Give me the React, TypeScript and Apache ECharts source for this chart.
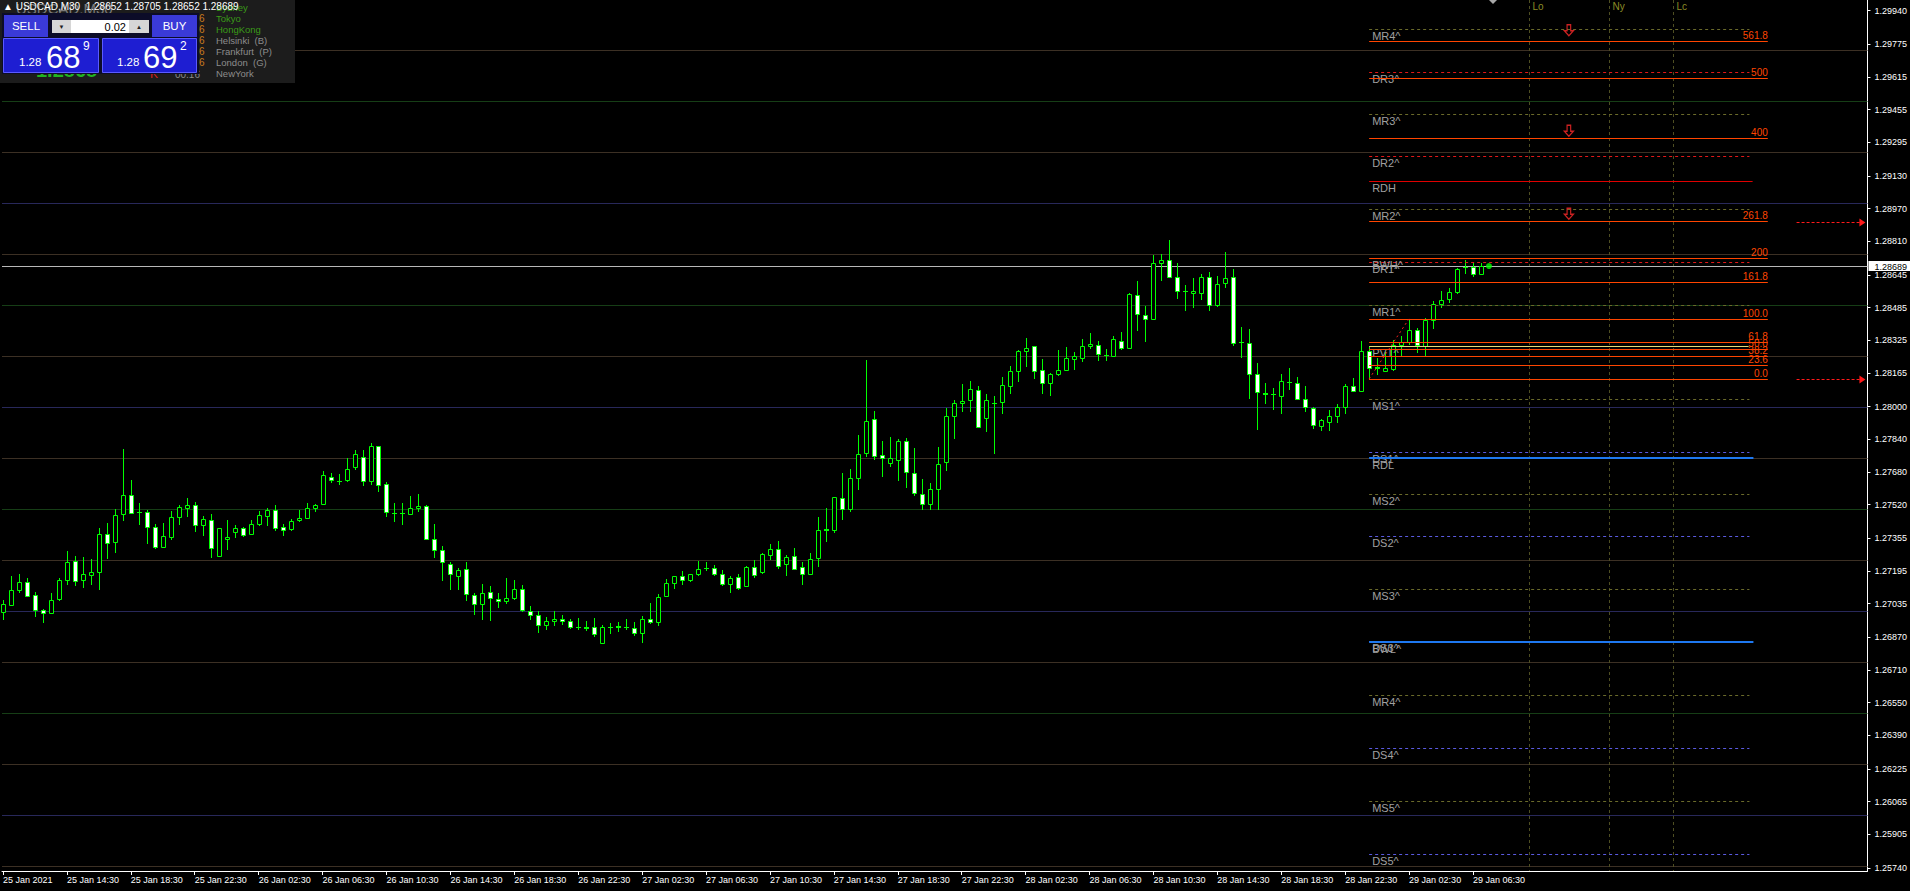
import React, { useEffect, useRef } from "react";
import * as echarts from "echarts";

const FONT = "Liberation Sans, Arial, sans-serif";

// ---------- axis labels ----------
const timeLabels = [
  "25 Jan 2021", "25 Jan 14:30", "25 Jan 18:30", "25 Jan 22:30", "26 Jan 02:30", "26 Jan 06:30",
  "26 Jan 10:30", "26 Jan 14:30", "26 Jan 18:30", "26 Jan 22:30", "27 Jan 02:30", "27 Jan 06:30",
  "27 Jan 10:30", "27 Jan 14:30", "27 Jan 18:30", "27 Jan 22:30", "28 Jan 02:30", "28 Jan 06:30",
  "28 Jan 10:30", "28 Jan 14:30", "28 Jan 18:30", "28 Jan 22:30", "29 Jan 02:30", "29 Jan 06:30",
];
const priceTicks = [
  1.2994, 1.29775, 1.29615, 1.29455, 1.29295, 1.2913, 1.2897, 1.2881, 1.28645, 1.28485, 1.28325,
  1.28165, 1.28, 1.2784, 1.2768, 1.2752, 1.27355, 1.27195, 1.27035, 1.2687, 1.2671, 1.2655, 1.2639,
  1.26225, 1.26065, 1.25905, 1.2574,
];

// ---------- USDCAD M30 candles ----------
const opens = [
  1.26993, 1.27029, 1.27101, 1.27142, 1.27078, 1.27005, 1.2699, 1.27057, 1.2715, 1.27245,
  1.2715, 1.27176, 1.2719, 1.27377, 1.27337, 1.27474, 1.27569, 1.27485, 1.27485, 1.27412,
  1.27312, 1.2736, 1.27459, 1.27503, 1.2752, 1.2742, 1.27446, 1.27268, 1.27351, 1.27386,
  1.27407, 1.27376, 1.27425, 1.27464, 1.27495, 1.27412, 1.274, 1.27444, 1.27454, 1.27503,
  1.27523, 1.27655, 1.27637, 1.27641, 1.27704, 1.27755, 1.27636, 1.27806, 1.27623, 1.2748,
  1.27481, 1.27474, 1.27503, 1.27515, 1.27353, 1.27299, 1.2723, 1.2717, 1.27206, 1.27078,
  1.27033, 1.27093, 1.27059, 1.27047, 1.27062, 1.27108, 1.27, 1.2698, 1.2693, 1.26949,
  1.26961, 1.26951, 1.2692, 1.26922, 1.26922, 1.26842, 1.26922, 1.26926, 1.26922, 1.26917,
  1.26891, 1.26961, 1.26944, 1.27072, 1.27136, 1.27172, 1.2715, 1.2718, 1.27211, 1.27211,
  1.27181, 1.27131, 1.27167, 1.27121, 1.27216, 1.27189, 1.27274, 1.27304, 1.2723, 1.27269,
  1.27216, 1.27181, 1.27258, 1.27398, 1.27395, 1.27554, 1.27498, 1.2765, 1.27774, 1.27941,
  1.27765, 1.27724, 1.27739, 1.2783, 1.27676, 1.27573, 1.27523, 1.27598, 1.2773, 1.27956,
  1.2802, 1.28033, 1.28083, 1.27945, 1.28018, 1.28023, 1.28101, 1.28175, 1.28273, 1.28297,
  1.2818, 1.28116, 1.2816, 1.28181, 1.28234, 1.2824, 1.28299, 1.28304, 1.28253, 1.28248,
  1.28324, 1.28288, 1.28549, 1.28451, 1.28429, 1.28706, 1.2872, 1.28637, 1.28569, 1.28559,
  1.28559, 1.28637, 1.28497, 1.28606, 1.28637, 1.28317, 1.28314, 1.2816, 1.28065, 1.28064,
  1.28052, 1.28123, 1.28118, 1.28039, 1.27995, 1.27907, 1.27925, 1.27954, 1.28, 1.28103,
  1.28078, 1.28274, 1.28191, 1.28176, 1.28186, 1.28304, 1.28319, 1.28374, 1.28297, 1.28426,
  1.28503, 1.28529, 1.2856, 1.28685, 1.28686, 1.28652,
];
const highs = [
  1.27054, 1.27168, 1.27181, 1.27162, 1.27093, 1.2701, 1.27088, 1.27162, 1.27291, 1.27266,
  1.27261, 1.27252, 1.27404, 1.27428, 1.275, 1.27791, 1.27639, 1.27526, 1.27495, 1.27423,
  1.27428, 1.27487, 1.27516, 1.27551, 1.27531, 1.27462, 1.27472, 1.27407, 1.27443, 1.27418,
  1.27409, 1.27443, 1.27487, 1.27505, 1.27516, 1.27423, 1.27451, 1.27495, 1.27526, 1.27521,
  1.27686, 1.27677, 1.2767, 1.27747, 1.27786, 1.27786, 1.2782, 1.27809, 1.27629, 1.27526,
  1.27526, 1.27561, 1.2757, 1.27516, 1.27423, 1.27315, 1.2724, 1.27209, 1.27237, 1.27088,
  1.27129, 1.27119, 1.27088, 1.27159, 1.27149, 1.27124, 1.27021, 1.26997, 1.26971, 1.26997,
  1.26977, 1.26961, 1.26962, 1.26948, 1.26962, 1.26928, 1.26938, 1.26943, 1.26958, 1.26943,
  1.26972, 1.27036, 1.2708, 1.27154, 1.27172, 1.27193, 1.27181, 1.27242, 1.27237, 1.27222,
  1.27198, 1.2717, 1.27178, 1.27217, 1.2725, 1.27281, 1.27325, 1.2734, 1.27271, 1.27306,
  1.2724, 1.27281, 1.27458, 1.27502, 1.27559, 1.27673, 1.27692, 1.27859, 1.28227, 1.27977,
  1.2783, 1.2785, 1.2784, 1.27845, 1.27796, 1.27644, 1.27627, 1.27801, 1.27992, 1.28034,
  1.28113, 1.28124, 1.281, 1.2806, 1.28051, 1.28145, 1.28199, 1.28276, 1.28335, 1.28299,
  1.28232, 1.28167, 1.28276, 1.28293, 1.28266, 1.2833, 1.28359, 1.2832, 1.28283, 1.28345,
  1.28364, 1.28556, 1.28614, 1.28492, 1.28741, 1.28747, 1.28815, 1.28703, 1.28595, 1.28632,
  1.28652, 1.28658, 1.28639, 1.28756, 1.28676, 1.28389, 1.28379, 1.28212, 1.28114, 1.2809,
  1.28158, 1.28188, 1.28144, 1.281, 1.27997, 1.2794, 1.27982, 1.28015, 1.28113, 1.28139,
  1.2832, 1.28294, 1.28237, 1.28268, 1.28325, 1.28346, 1.28431, 1.28384, 1.28436, 1.28518,
  1.28568, 1.28583, 1.28678, 1.28717, 1.28704, 1.28705,
];
const lows = [
  1.26959, 1.27028, 1.27092, 1.27072, 1.26974, 1.26944, 1.26989, 1.27052, 1.27129, 1.27126,
  1.27116, 1.27129, 1.27105, 1.27256, 1.27286, 1.27443, 1.27477, 1.27423, 1.2733, 1.27306,
  1.2731, 1.2735, 1.27423, 1.27462, 1.27389, 1.27369, 1.27261, 1.27268, 1.27301, 1.2736,
  1.27364, 1.27374, 1.27418, 1.27418, 1.27395, 1.27369, 1.27394, 1.2744, 1.27454, 1.27487,
  1.27523, 1.27631, 1.27619, 1.27634, 1.27693, 1.27614, 1.27621, 1.27585, 1.27462, 1.2744,
  1.27423, 1.27474, 1.27489, 1.2735, 1.27263, 1.27149, 1.27105, 1.27105, 1.27051, 1.26984,
  1.26959, 1.26954, 1.27018, 1.27038, 1.27057, 1.26997, 1.26959, 1.26895, 1.26909, 1.26928,
  1.26935, 1.26913, 1.26909, 1.26904, 1.26876, 1.26842, 1.26889, 1.26899, 1.26909, 1.26881,
  1.26845, 1.2694, 1.2693, 1.27072, 1.27111, 1.27131, 1.27145, 1.27175, 1.27201, 1.27175,
  1.27126, 1.27091, 1.27106, 1.27121, 1.27165, 1.27185, 1.27255, 1.27209, 1.27175, 1.27204,
  1.27132, 1.2718, 1.27217, 1.27342, 1.27386, 1.27449, 1.27488, 1.27594, 1.27758, 1.27743,
  1.27658, 1.27709, 1.2764, 1.27606, 1.27567, 1.27498, 1.27498, 1.27498, 1.27691, 1.27847,
  1.27977, 1.27979, 1.27899, 1.27879, 1.27771, 1.27967, 1.28065, 1.28126, 1.28199, 1.28141,
  1.28065, 1.28057, 1.28154, 1.2818, 1.28185, 1.28222, 1.28288, 1.28227, 1.28227, 1.28248,
  1.28281, 1.28286, 1.28374, 1.28322, 1.28429, 1.28619, 1.28636, 1.28531, 1.28472, 1.28489,
  1.28526, 1.28472, 1.28492, 1.28585, 1.28304, 1.28243, 1.28042, 1.2789, 1.28018, 1.27989,
  1.27969, 1.28088, 1.28038, 1.27977, 1.27897, 1.27884, 1.27884, 1.27925, 1.27969, 1.28077,
  1.28077, 1.28136, 1.2816, 1.28176, 1.2818, 1.28255, 1.28309, 1.2827, 1.28253, 1.28386,
  1.28489, 1.28513, 1.28557, 1.28655, 1.28642, 1.28652,
];
const closes = [
  1.27031, 1.27103, 1.27142, 1.27074, 1.27005, 1.2699, 1.27054, 1.27152, 1.2724, 1.27147,
  1.27181, 1.27191, 1.27377, 1.27332, 1.27471, 1.27569, 1.27479, 1.27482, 1.2741, 1.27312,
  1.27368, 1.27461, 1.2751, 1.2752, 1.2742, 1.27451, 1.27307, 1.27407, 1.27363, 1.27407,
  1.27371, 1.27427, 1.27471, 1.27495, 1.27405, 1.27395, 1.27441, 1.27456, 1.27505, 1.2752,
  1.27667, 1.27642, 1.27638, 1.27696, 1.27766, 1.27636, 1.27806, 1.27618, 1.27485, 1.27481,
  1.2748, 1.27505, 1.27515, 1.27351, 1.27299, 1.27239, 1.2718, 1.27201, 1.27082, 1.27033,
  1.27088, 1.27062, 1.27047, 1.27064, 1.27108, 1.27002, 1.26979, 1.2693, 1.26951, 1.26961,
  1.26949, 1.2692, 1.26921, 1.26917, 1.26886, 1.26922, 1.2692, 1.26922, 1.26921, 1.26891,
  1.26961, 1.26944, 1.27069, 1.27137, 1.27172, 1.2715, 1.27181, 1.27206, 1.27207, 1.27181,
  1.27131, 1.27159, 1.27111, 1.27212, 1.27176, 1.27276, 1.27304, 1.2722, 1.27264, 1.27206,
  1.27181, 1.27255, 1.27397, 1.27397, 1.27559, 1.275, 1.27652, 1.27769, 1.27931, 1.27758,
  1.2775, 1.27747, 1.2783, 1.27681, 1.27577, 1.27523, 1.27598, 1.27721, 1.27956, 1.2802,
  1.28029, 1.28088, 1.279, 1.28034, 1.28017, 1.28105, 1.28176, 1.28274, 1.28289, 1.28175,
  1.28118, 1.28162, 1.28181, 1.28237, 1.28247, 1.28299, 1.28308, 1.2826, 1.28252, 1.28333,
  1.28288, 1.28554, 1.28456, 1.28429, 1.28706, 1.28717, 1.28637, 1.28567, 1.28567, 1.28567,
  1.28637, 1.285, 1.28603, 1.28632, 1.28314, 1.28315, 1.2816, 1.28074, 1.28064, 1.28063,
  1.28127, 1.28122, 1.28039, 1.28, 1.27911, 1.27933, 1.27956, 1.28, 1.28103, 1.28078,
  1.28274, 1.28191, 1.28192, 1.28191, 1.28304, 1.28319, 1.28377, 1.28304, 1.28426, 1.28505,
  1.28524, 1.28564, 1.28676, 1.28684, 1.28652, 1.28689,
];

// ---------- levels ----------
const quarterLevels = [
  1.2975, 1.295, 1.2925, 1.29, 1.2875, 1.285, 1.2825, 1.28, 1.2775, 1.275, 1.2725, 1.27, 1.2675,
  1.265, 1.2625, 1.26, 1.2575,
];
const sessionNames = ["Lo", "Ny", "Lc"];
const sessionBars = [191, 201, 209];
const pivotNames = [
  "MR4^", "DR3^", "MR3^", "DR2^", "RDH", "MR2^", "DR1^", "BWH^", "MR1^", "PVT^", "MS1^", "DS1^",
  "RDL", "MS2^", "DS2^", "MS3^", "DS3^", "BWL^", "MR4^", "DS4^", "MS5^", "DS5^",
];
const pivotPrices = [
  1.29849, 1.29638, 1.29432, 1.29228, 1.29104, 1.28967, 1.28707, 1.28727, 1.285, 1.28297, 1.28036,
  1.27776, 1.27747, 1.27571, 1.27365, 1.27105, 1.2685, 1.26848, 1.26586, 1.26326, 1.26068, 1.25807,
];
const pivotKinds = [
  "olive", "red", "olive", "red", "redSolid", "olive", "red", "none", "olive", "khaki", "olive",
  "blue", "blueSolid", "olive", "blue", "olive", "blue", "blueSolid", "olive", "blue", "olive", "blue",
];
const fibNames = ["0.0", "23.6", "38.2", "50.0", "61.8", "100.0", "161.8", "200", "261.8", "400", "500", "561.8"];
const fibPrices = [
  1.28136, 1.28206, 1.28249, 1.28284, 1.28318, 1.28431, 1.28613, 1.28726, 1.28908, 1.29316,
  1.29611, 1.29793,
];
const fibAnchorBars = [171, 176];
const fibAnchorPrices = [1.28136, 1.28431];
const alertArrowBars = [196, 196, 196];
const alertArrowPrices = [1.29844, 1.29352, 1.28945];
const rightArrowPrices = [1.28905, 1.28136];
const currentPrice = 1.28689;
const markerBar = 186;
const cities = ["Sydney", "Tokyo", "HongKong", "Helsinki  (B)", "Frankfurt  (P)", "London  (G)", "NewYork"];
const cityOpen = [true, true, true, false, false, false, false];

// ---------- styles / geometry ----------
const Y_MIN = 1.257245;
const Y_MAX = 1.299926;
const X_MIN = -0.125;
const X_MAX = 233.375;
const LEVEL_START = 171;
const kindStyle: Record<string, any> = {
  olive: { stroke: "#6a6a2a", dash: [3, 3], w: 1, end: 218.6 },
  red: { stroke: "#e01818", dash: [3, 3], w: 1, end: 218.6 },
  blue: { stroke: "#5a5ae0", dash: [3, 3], w: 1, end: 218.6 },
  redSolid: { stroke: "#e00000", dash: null, w: 1, end: 219 },
  blueSolid: { stroke: "#1e78f0", dash: null, w: 2, end: 219.1 },
  khaki: { stroke: "#e6da7a", dash: null, w: 1, end: 218.5 },
  none: null,
};
const FIB_END = 220.9;

function quarterColor(p: number) {
  const r = Math.round(p * 10000) % 100;
  if (r === 0) return "#28285a";
  if (r === 50) return "#163e16";
  return "#3c3024";
}
const snap = (v: number) => Math.round(v) + 0.5;

function buildOption() {
  const candleData = opens.map((o, i) => [i, o, highs[i], lows[i], closes[i]]);

  const candleSeries = {
    type: "custom",
    name: "candles",
    z: 5,
    silent: true,
    data: candleData,
    encode: { x: 0, y: [1, 2, 3, 4] },
    renderItem: (params: any, api: any) => {
      const i = api.value(0);
      const o = api.value(1);
      const h = api.value(2);
      const l = api.value(3);
      const c = api.value(4);
      const po = api.coord([i, o]);
      const pc = api.coord([i, c]);
      const ph = api.coord([i, h]);
      const pl = api.coord([i, l]);
      const cx = snap(po[0]);
      const top = Math.round(Math.min(po[1], pc[1]));
      const bot = Math.round(Math.max(po[1], pc[1]));
      const children: any[] = [
        {
          type: "line",
          shape: { x1: cx, y1: Math.round(ph[1]), x2: cx, y2: Math.round(pl[1]) + 1 },
          style: { stroke: "#00ff00", lineWidth: 1 },
        },
      ];
      if (bot - top < 2) {
        children.push({
          type: "rect",
          shape: { x: cx - 2.5, y: top, width: 5, height: bot - top + 1 },
          style: { fill: "#00ff00" },
        });
      } else {
        children.push({
          type: "rect",
          shape: { x: cx - 2, y: top + 0.5, width: 4, height: bot - top },
          style: { fill: c < o ? "#ffffff" : "#000000", stroke: "#00ff00", lineWidth: 1 },
        });
      }
      return { type: "group", children };
    },
  };

  const quarterSeries = {
    type: "custom",
    name: "quarters",
    z: 1,
    silent: true,
    data: quarterLevels.map((p) => [X_MIN, p]),
    renderItem: (params: any, api: any) => {
      const cs = params.coordSys;
      const y = snap(api.coord([0, api.value(1)])[1]);
      return {
        type: "line",
        shape: { x1: cs.x, y1: y, x2: cs.x + cs.width, y2: y },
        style: { stroke: quarterColor(api.value(1)), lineWidth: 1 },
      };
    },
  };

  const sessionSeries = {
    type: "custom",
    name: "sessions",
    z: 2,
    silent: true,
    data: sessionBars.map((b) => [b, Y_MAX]),
    renderItem: (params: any, api: any) => {
      const cs = params.coordSys;
      const x = snap(api.coord([api.value(0), Y_MAX])[0]);
      return {
        type: "group",
        children: [
          {
            type: "line",
            shape: { x1: x, y1: cs.y, x2: x, y2: cs.y + cs.height },
            style: { stroke: "#4e4e22", lineWidth: 1, lineDash: [3, 3] },
          },
          {
            type: "text",
            x: x + 3,
            y: cs.y + 1,
            style: {
              text: sessionNames[params.dataIndex],
              fill: "#8c8c26",
              fontSize: 10,
              fontFamily: FONT,
              align: "left",
              verticalAlign: "top",
              textAlign: "left",
              textVerticalAlign: "top",
            },
          },
        ],
      };
    },
  };

  const pivotSeries = {
    type: "custom",
    name: "pivots",
    z: 6,
    silent: true,
    data: pivotPrices.map((p) => [LEVEL_START, p]),
    renderItem: (params: any, api: any) => {
      const kind = pivotKinds[params.dataIndex];
      const st = kindStyle[kind];
      const p = api.value(1);
      const a = api.coord([LEVEL_START, p]);
      const y = snap(a[1]);
      const children: any[] = [];
      if (st) {
        const b = api.coord([st.end, p]);
        const yy = st.w === 2 ? Math.round(a[1]) : y;
        children.push({
          type: "line",
          shape: { x1: a[0], y1: yy, x2: b[0], y2: yy },
          style: { stroke: st.stroke, lineWidth: st.w, lineDash: st.dash || undefined },
        });
      }
      children.push({
        type: "text",
        x: a[0] + 3,
        y: Math.round(a[1]) + 1,
        style: {
          text: pivotNames[params.dataIndex],
          fill: "#a0a0a0",
          fontSize: 11,
          fontFamily: FONT,
          align: "left",
          verticalAlign: "top",
          textAlign: "left",
          textVerticalAlign: "top",
        },
      });
      return { type: "group", children };
    },
  };

  const fibSeries = {
    type: "custom",
    name: "fibo",
    z: 7,
    silent: true,
    data: fibPrices.map((p) => [LEVEL_START, p]),
    renderItem: (params: any, api: any) => {
      const p = api.value(1);
      const a = api.coord([LEVEL_START, p]);
      const b = api.coord([FIB_END, p]);
      const y = snap(a[1]);
      return {
        type: "group",
        children: [
          {
            type: "line",
            shape: { x1: a[0], y1: y, x2: b[0], y2: y },
            style: { stroke: "#ff4500", lineWidth: 1 },
          },
          {
            type: "text",
            x: b[0],
            y: Math.round(a[1]) - 1,
            style: {
              text: fibNames[params.dataIndex],
              fill: "#ff4500",
              fontSize: 10,
              fontFamily: FONT,
              align: "right",
              verticalAlign: "bottom",
              textAlign: "right",
              textVerticalAlign: "bottom",
            },
          },
        ],
      };
    },
  };

  const fibAnchorSeries = {
    type: "line",
    name: "fibAnchor",
    z: 8,
    silent: true,
    symbol: "none",
    data: fibAnchorBars.map((b, i) => [b, fibAnchorPrices[i]]),
    lineStyle: { color: "#ff2020", width: 1, type: [2, 3] },
  };

  const rightArrowSeries = {
    type: "custom",
    name: "rightArrows",
    z: 8,
    silent: true,
    data: rightArrowPrices.map((p) => [224.5, p]),
    renderItem: (params: any, api: any) => {
      const p = api.value(1);
      const a = api.coord([224.5, p]);
      const b = api.coord([X_MAX, p]);
      const y = snap(a[1]);
      const xe = b[0] - 2;
      return {
        type: "group",
        children: [
          {
            type: "line",
            shape: { x1: a[0], y1: y, x2: xe - 4, y2: y },
            style: { stroke: "#ff1a1a", lineWidth: 1, lineDash: [3, 2] },
          },
          {
            type: "polygon",
            shape: { points: [[xe - 6, y - 4], [xe, y], [xe - 6, y + 4]] },
            style: { fill: "#ff1a1a" },
          },
        ],
      };
    },
  };

  const currentSeries = {
    type: "custom",
    name: "current",
    z: 4,
    silent: true,
    data: [[X_MIN, currentPrice]],
    renderItem: (params: any, api: any) => {
      const cs = params.coordSys;
      const p = api.value(1);
      const y = snap(api.coord([0, p])[1]);
      const xr = cs.x + cs.width;
      return {
        type: "group",
        children: [
          {
            type: "line",
            shape: { x1: cs.x, y1: y, x2: xr, y2: y },
            style: { stroke: "#b8b8b8", lineWidth: 1 },
          },
          {
            type: "rect",
            shape: { x: xr + 1, y: y - 5.5, width: 42, height: 10 },
            style: { fill: "#ffffff" },
          },
          {
            type: "text",
            x: xr + 7,
            y: y,
            style: {
              text: p.toFixed(5),
              fill: "#000000",
              fontSize: 9,
              fontFamily: FONT,
              align: "left",
              verticalAlign: "middle",
              textAlign: "left",
              textVerticalAlign: "middle",
            },
          },
        ],
      };
    },
  };

  const alertSeries = {
    type: "scatter",
    name: "alerts",
    z: 9,
    silent: true,
    symbol: "path://M3,0 L7,0 L7,6 L10,6 L5,11 L0,6 L3,6 Z",
    symbolSize: [9, 11],
    itemStyle: { color: "rgba(0,0,0,0)", borderColor: "#ff2a2a", borderWidth: 1.3 },
    data: alertArrowBars.map((b, i) => [b, alertArrowPrices[i]]),
  };

  const dotSeries = {
    type: "scatter",
    name: "dot",
    z: 9,
    silent: true,
    symbol: "circle",
    symbolSize: 6,
    itemStyle: { color: "#00ff00" },
    data: [[markerBar, currentPrice]],
  };

  const txt = (text: string, x: number, y: number, fill: string, size: number, extra: any = {}) => ({
    type: "text",
    x,
    y,
    z: 100,
    style: {
      text,
      fill,
      fontSize: size,
      fontFamily: FONT,
      textAlign: extra.align || "left",
      textVerticalAlign: extra.valign || "middle",
      align: extra.align || "left",
      verticalAlign: extra.valign || "middle",
      fontWeight: extra.weight || "normal",
    },
  });
  const box = (x: number, y: number, w: number, h: number, fill: string, stroke?: string) => ({
    type: "rect",
    z: 100,
    shape: { x, y, width: w, height: h },
    style: stroke ? { fill, stroke, lineWidth: 1 } : { fill },
  });

  const cityRows = [7.5, 18.5, 29.5, 40.5, 51.5, 62.5, 73.5];
  const graphic: any[] = [
    box(0, 0, 295, 83, "#1c1c1c"),
    txt("USDCAD,M30", 16, 8, "#7a7a7a", 15),
    txt("1.2868", 36, 70, "#22b422", 20, { weight: "bold" }),
    txt("K", 150, 74, "#d02020", 12),
    txt("00.16", 200, 74, "#8a8a8a", 10, { align: "right" }),
  ];
  cityRows.forEach((y, i) => {
    if (i > 0 && i < 6) graphic.push(txt("6", 199, y, "#c87a1e", 10));
    graphic.push(txt(cities[i], 216, y, cityOpen[i] ? "#3a9a18" : "#8c8c8c", 9.5));
  });
  graphic.push(
    txt("\u25B2 USDCAD,M30  1.28652 1.28705 1.28652 1.28689", 3, 6, "#ffffff", 10),
    box(2, 13, 197, 61, "#0c0c28"),
    box(4, 15, 44, 22, "#3a3ad8"),
    txt("SELL", 26, 26, "#ffffff", 11.5, { align: "center" }),
    box(152, 15, 45, 22, "#3a3ad8"),
    txt("BUY", 174.5, 26, "#ffffff", 11.5, { align: "center" }),
    box(52, 20, 19, 13, "#d6d6d6"),
    txt("\u25BC", 61.5, 26.5, "#202020", 6, { align: "center" }),
    box(71, 20, 58, 13, "#ffffff"),
    txt("0.02", 126, 26.5, "#000000", 11, { align: "right" }),
    box(129, 20, 20, 13, "#d6d6d6"),
    txt("\u25B2", 139, 26.5, "#202020", 6, { align: "center" }),
    box(3.5, 38.5, 95, 34, "#1e1ed2", "#5a5aff"),
    box(102.5, 38.5, 94, 34, "#1e1ed2", "#5a5aff"),
    txt("1.28", 19, 62, "#ffffff", 11.5),
    txt("68", 46, 57, "#ffffff", 31),
    txt("9", 83, 46, "#ffffff", 12),
    txt("1.28", 117, 62, "#ffffff", 11.5),
    txt("69", 143, 57, "#ffffff", 31),
    txt("2", 180, 46, "#ffffff", 12),
    {
      type: "polygon",
      z: 100,
      shape: { points: [[1489, 0], [1497, 0], [1493, 4]] },
      style: { fill: "#a8a8a8" },
    }
  );

  return {
    animation: false,
    backgroundColor: "#000000",
    grid: { left: 0, top: 0, width: 1868, height: 871, containLabel: false },
    xAxis: {
      type: "value",
      min: X_MIN,
      max: X_MAX,
      axisLine: { show: true, onZero: false, lineStyle: { color: "#ffffff", width: 1 } },
      axisTick: {
        show: true,
        customValues: timeLabels.map((_, i) => i * 8),
        length: 4,
        lineStyle: { color: "#ffffff" },
      },
      axisLabel: {
        show: true,
        customValues: timeLabels.map((_, i) => i * 8),
        formatter: (v: number) => timeLabels[Math.round(v / 8)] || "",
        color: "#ffffff",
        fontSize: 9,
        fontFamily: FONT,
        align: "left",
        margin: 4,
      },
      splitLine: { show: false },
    },
    yAxis: {
      type: "value",
      position: "right",
      min: Y_MIN,
      max: Y_MAX,
      scale: true,
      axisLine: { show: true, onZero: false, lineStyle: { color: "#ffffff", width: 1 } },
      axisTick: {
        show: true,
        customValues: priceTicks,
        length: 3,
        lineStyle: { color: "#ffffff" },
      },
      axisLabel: {
        show: true,
        customValues: priceTicks,
        formatter: (v: number) => v.toFixed(5),
        color: "#ffffff",
        fontSize: 9,
        fontFamily: FONT,
        margin: 7,
      },
      splitLine: { show: false },
    },
    series: [
      quarterSeries,
      sessionSeries,
      currentSeries,
      candleSeries,
      pivotSeries,
      fibSeries,
      fibAnchorSeries,
      rightArrowSeries,
      alertSeries,
      dotSeries,
    ],
    graphic,
  };
}

export default function App() {
  const ref = useRef<HTMLDivElement>(null);
  useEffect(() => {
    if (!ref.current) return;
    const chart = echarts.init(ref.current, null, { renderer: "svg" });
    chart.setOption(buildOption() as any);
    return () => chart.dispose();
  }, []);
  return (
    <div
      ref={ref}
      style={{ position: "fixed", left: 0, top: 0, width: 1910, height: 891, background: "#000" }}
    />
  );
}
